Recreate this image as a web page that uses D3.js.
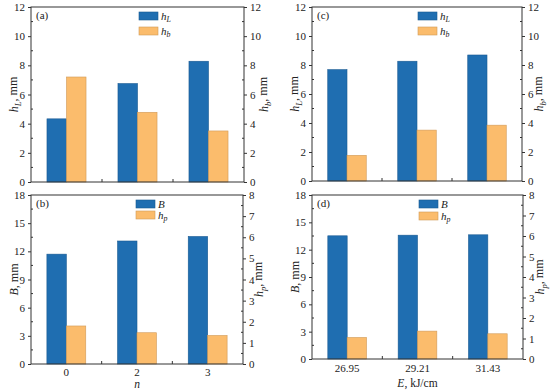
<!DOCTYPE html>
<html>
<head>
<meta charset="utf-8">
<script src="https://cdn.jsdelivr.net/npm/d3@7"></script>
<style>
  body { margin: 0; background: #fff; }
  svg { display: block; font-family: "Liberation Serif", "DejaVu Serif", serif; }
</style>
</head>
<body>
<svg id="chart" width="550" height="391"></svg>
<script>
// categories
var nCats = ["0", "2", "3"];
var eCats = ["26.95", "29.21", "31.43"];

// panel (a): vs n
var hL_n = [4.33, 6.75, 8.28];
var hb_n = [7.2, 4.78, 3.5];
// panel (b): vs n
var B_n = [11.7, 13.1, 13.58];
var hp_n = [1.8, 1.48, 1.35];
// panel (c): vs E
var hL_E = [7.68, 8.26, 8.69];
var hb_E = [1.77, 3.51, 3.85];
// panel (d): vs E
var B_E = [13.52, 13.59, 13.63];
var hp_E = [1.05, 1.36, 1.23];

var blue = "#1f6eb1", blueEdge = "#1a5a92";
var orange = "#fbbc6c", orangeEdge = "#d09a58";

var svg = d3.select("#chart");

// write "sym_sub, mm" style labels with italic symbol + italic subscript
function symText(sel, sym, sub, tail) {
    sel.append("tspan").attr("font-style", "italic").text(sym);
    if (sub) {
        sel.append("tspan").attr("font-style", "italic")
            .attr("font-size", "0.72em").attr("dy", "0.3em").text(sub);
        sel.append("tspan").attr("dy", "-0.3em").text(tail);
    } else {
        sel.append("tspan").text(tail);
    }
}

function panel(p) {
    var g = svg.append("g");
    var x = d3.scaleBand().domain(p.cats).range([p.x0, p.x1]);
    var bw = x.bandwidth();
    var inner = d3.scaleBand().domain([0, 1]).range([0, bw * 0.55]);
    var yl = d3.scaleLinear().domain([0, p.lmax]).range([p.y1, p.y0]);
    var yr = d3.scaleLinear().domain([0, p.rmax]).range([p.y1, p.y0]);

    // bars
    p.cats.forEach(function (c, i) {
        var bx = x(c) + bw * 0.225;
        g.append("rect")
            .attr("x", bx + inner(0)).attr("width", inner.bandwidth())
            .attr("y", yl(p.left[i])).attr("height", yl(0) - yl(p.left[i]))
            .attr("fill", blue).attr("stroke", blueEdge).attr("stroke-width", 0.6);
        g.append("rect")
            .attr("x", bx + inner(1)).attr("width", inner.bandwidth())
            .attr("y", yr(p.right[i])).attr("height", yr(0) - yr(p.right[i]))
            .attr("fill", orange).attr("stroke", orangeEdge).attr("stroke-width", 0.6);
    });

    // frame
    g.append("rect")
        .attr("x", p.x0).attr("y", p.y0)
        .attr("width", p.x1 - p.x0).attr("height", p.y1 - p.y0)
        .attr("fill", "none").attr("stroke", "#333").attr("stroke-width", 1);

    // left / right axes
    var la = g.append("g").attr("transform", "translate(" + p.x0 + ",0)")
        .call(d3.axisLeft(yl).tickValues(d3.range(0, p.lmax + 0.001, p.lstep))
            .tickSize(3).tickPadding(3));
    var ra = g.append("g").attr("transform", "translate(" + p.x1 + ",0)")
        .call(d3.axisRight(yr).tickValues(d3.range(0, p.rmax + 0.001, p.rstep))
            .tickSize(3).tickPadding(3));
    [la, ra].forEach(function (a) {
        a.select(".domain").remove();
        a.selectAll("line").attr("stroke", "#333");
        a.selectAll("text").attr("font-size", 11).attr("fill", "#222")
            .attr("font-family", "Liberation Serif");
    });

    // minor ticks (inward)
    d3.range(p.lstep / 2, p.lmax, p.lstep).forEach(function (v) {
        g.append("line").attr("x1", p.x0).attr("x2", p.x0 + 2)
            .attr("y1", yl(v)).attr("y2", yl(v)).attr("stroke", "#333");
    });
    d3.range(p.rstep / 2, p.rmax, p.rstep).forEach(function (v) {
        g.append("line").attr("x1", p.x1).attr("x2", p.x1 - 2)
            .attr("y1", yr(v)).attr("y2", yr(v)).attr("stroke", "#333");
    });

    // bottom ticks at band boundaries
    p.cats.slice(1).forEach(function (c) {
        g.append("line").attr("x1", x(c)).attr("x2", x(c))
            .attr("y1", p.y1).attr("y2", p.y1 - 3).attr("stroke", "#333");
    });

    if (p.showX) {
        p.cats.forEach(function (c) {
            g.append("text").attr("x", x(c) + bw / 2).attr("y", p.y1 + p.xTickDy)
                .attr("text-anchor", "middle").attr("font-size", 11)
                .attr("fill", "#222").text(c);
        });
        var xt = g.append("text").attr("x", (p.x0 + p.x1) / 2).attr("y", p.xTitleY)
            .attr("text-anchor", "middle").attr("font-size", 11.5).attr("fill", "#222");
        symText(xt, p.xSym, null, p.xTail);
    }

    // axis titles
    var lt = g.append("text")
        .attr("transform", "translate(" + (p.x0 - 13) + "," + ((p.y0 + p.y1) / 2) + ") rotate(-90)")
        .attr("text-anchor", "middle").attr("font-size", 12).attr("fill", "#222");
    symText(lt, p.lSym, p.lSub, ", mm");
    var rt = g.append("text")
        .attr("transform", "translate(" + (p.x1 + p.rTitleDx) + "," + ((p.y0 + p.y1) / 2) + ") rotate(-90)")
        .attr("text-anchor", "middle").attr("font-size", 12).attr("fill", "#222");
    symText(rt, p.rSym, p.rSub, ", mm");

    // panel label
    g.append("text").attr("x", p.x0 + 5).attr("y", p.y0 + 12)
        .attr("font-size", 11).attr("fill", "#222").text(p.tag);

    // legend
    var lg = g.append("g").attr("transform", "translate(" + p.legX + "," + (p.y0 + 5) + ")");
    [[blue, blueEdge, p.lSym, p.lSub], [orange, orangeEdge, p.rSym, p.rSub]].forEach(function (d, i) {
        lg.append("rect").attr("x", 0).attr("y", i * p.legGap).attr("width", 19).attr("height", 8)
            .attr("fill", d[0]).attr("stroke", d[1]).attr("stroke-width", 0.6);
        var t = lg.append("text").attr("x", 22).attr("y", i * p.legGap + 8)
            .attr("font-size", 11).attr("fill", "#222");
        symText(t, d[2], d[3], "");
    });
}

panel({ tag: "(a)", cats: nCats, left: hL_n, right: hb_n,
    x0: 31, x1: 244, y0: 7, y1: 182, lmax: 12, lstep: 2, rmax: 12, rstep: 2,
    lSym: "h", lSub: "L", rSym: "h", rSub: "b", legX: 139, legGap: 15, showX: false,
    rTitleDx: 24 });
panel({ tag: "(b)", cats: nCats, left: B_n, right: hp_n,
    x0: 31, x1: 243, y0: 195, y1: 364, lmax: 18, lstep: 3, rmax: 8, rstep: 1,
    lSym: "B", lSub: null, rSym: "h", rSub: "p", legX: 136, legGap: 11, showX: true,
    xSym: "n", xTail: "", xTitleY: 388, xTickDy: 12, rTitleDx: 20 });
panel({ tag: "(c)", cats: eCats, left: hL_E, right: hb_E,
    x0: 312, x1: 522, y0: 7, y1: 181, lmax: 12, lstep: 2, rmax: 12, rstep: 2,
    lSym: "h", lSub: "L", rSym: "h", rSub: "b", legX: 418, legGap: 15, showX: false,
    rTitleDx: 21 });
panel({ tag: "(d)", cats: eCats, left: B_E, right: hp_E,
    x0: 312, x1: 523, y0: 195, y1: 359, lmax: 18, lstep: 3, rmax: 8, rstep: 1,
    lSym: "B", lSub: null, rSym: "h", rSub: "p", legX: 419, legGap: 12, showX: true,
    xSym: "E", xTail: ", kJ/cm", xTitleY: 387, xTickDy: 13, rTitleDx: 21 });
</script>
</body>
</html>
